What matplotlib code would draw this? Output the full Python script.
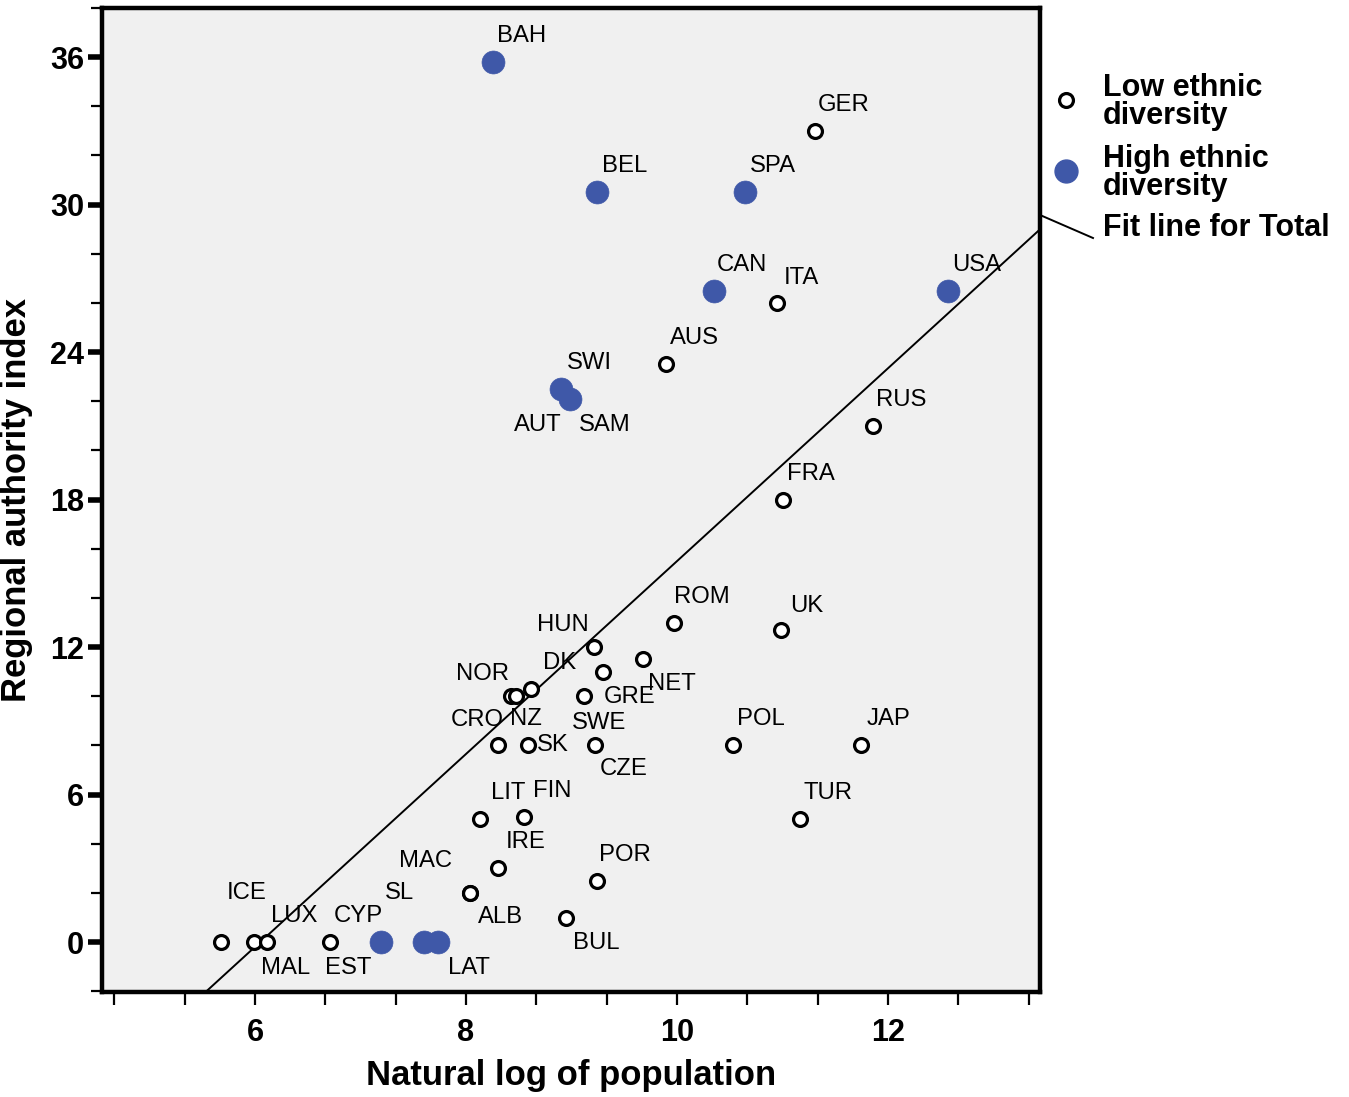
"""Regional authority index vs natural log of population, by ethnic diversity."""

import matplotlib
matplotlib.use("Agg")
import matplotlib.pyplot as plt
import numpy as np
from matplotlib.ticker import MultipleLocator
from matplotlib import font_manager

installed = {f.name for f in font_manager.fontManager.ttflist}
narrow_found = [n for n in ("Liberation Sans Narrow", "DejaVu Sans Condensed") if n in installed]
NARROW = narrow_found + ["Liberation Sans", "DejaVu Sans"]
WIDE = ["Liberation Sans", "DejaVu Sans"]
# shrink a bit when no condensed face is available
SCALE = 1.0 if narrow_found else 0.86

# low ethnic diversity countries: name, ln(pop), RAI
low_names = ["GER", "ITA", "AUS", "AUT", "RUS", "FRA", "ROM", "UK", "HUN", "NET",
             "GRE", "DK", "NOR", "CRO", "SWE", "NZ", "SK", "CZE", "POL", "JAP",
             "LIT", "FIN", "TUR", "IRE", "POR", "MAC", "ALB", "BUL", "ICE", "MAL",
             "LUX", "CYP"]
low_x = [11.31, 10.95, 9.90, 8.99, 11.86, 11.00, 9.97, 10.99, 9.21, 9.68,
         9.30, 8.62, 8.43, 8.47, 9.12, 8.30, 8.59, 9.22, 10.53, 11.74,
         8.13, 8.55, 11.17, 8.30, 9.24, 8.04, 8.04, 8.95, 5.68, 5.99,
         6.11, 6.71]
low_y = [33.0, 26.0, 23.5, 22.1, 21.0, 18.0, 13.0, 12.7, 12.0, 11.5,
         11.0, 10.3, 10.0, 10.0, 10.0, 8.0, 8.0, 8.0, 8.0, 8.0,
         5.0, 5.1, 5.0, 3.0, 2.5, 2.0, 2.0, 1.0, 0.0, 0.0,
         0.0, 0.0]

# high ethnic diversity countries
high_names = ["BAH", "BEL", "SPA", "CAN", "USA", "SWI", "SAM", "EST", "SL", "LAT"]
high_x = [8.26, 9.24, 10.64, 10.35, 12.57, 8.90, 8.99, 7.19, 7.60, 7.73]
high_y = [35.8, 30.5, 30.5, 26.5, 26.5, 22.5, 22.1, 0.0, 0.0, 0.0]

# label offsets in pixels (dx right, dy up); default is upper right
label_offsets = {
    "HUN": (-31, 22), "NET": (29, -25), "GRE": (26, -25), "SWE": (15, -27),
    "CZE": (29, -24), "NOR": (-29, 22), "CRO": (-38, -24), "SK": (25, 0),
    "MAC": (-45, 32), "ALB": (30, -24), "BUL": (30, -25), "ICE": (25, 49),
    "MAL": (32, -26), "EST": (-32, -26), "SL": (-24, 49), "LAT": (31, -26),
    "AUT": (-33, -26), "SAM": (34, -26), "ITA": (24, 25), "UK": (25, 24),
}
DEFAULT_OFFSET = (28, 26)

BLUE = "#3f58a8"

fig = plt.figure(figsize=(13.49, 10.97), dpi=100)
ax = fig.add_axes([102 / 1349, 1 - 992 / 1097, (1040 - 102) / 1349, (992 - 8) / 1097])
ax.set_facecolor("#f0f0f0")

ax.set_xlim(4.55, 13.44)
ax.set_ylim(-2.03, 38.0)

# fit line over all countries
all_x = np.array(low_x + high_x)
all_y = np.array(low_y + high_y)
slope, intercept = np.polyfit(all_x, all_y, 1)
line_x = np.array([4.55, 13.44])
ax.plot(line_x, slope * line_x + intercept, color="black", lw=1.4, zorder=2)

ax.plot(low_x, low_y, "o", ms=10, mfc="white", mec="black", mew=2.3, zorder=3)
ax.plot(high_x, high_y, "o", ms=16.5, mfc=BLUE, mec=BLUE, mew=0.5, zorder=4)

px2pt = 0.72
for names, xs, ys in ((low_names, low_x, low_y), (high_names, high_x, high_y)):
    for name, x, y in zip(names, xs, ys):
        dx, dy = label_offsets.get(name, DEFAULT_OFFSET)
        ax.annotate(name, (x, y), xytext=(dx * px2pt, dy * px2pt),
                    textcoords="offset points", ha="center", va="center",
                    fontsize=20 * SCALE, family=NARROW, zorder=5)

for side in ax.spines.values():
    side.set_linewidth(3.2)

ax.xaxis.set_major_locator(MultipleLocator(2))
ax.xaxis.set_minor_locator(MultipleLocator(2 / 3))
ax.yaxis.set_major_locator(MultipleLocator(6))
ax.yaxis.set_minor_locator(MultipleLocator(2))
ax.tick_params(axis="x", which="both", length=9, width=1.6, direction="out", pad=10)
ax.tick_params(axis="y", which="major", length=10, width=4, direction="out", pad=3)
ax.tick_params(axis="y", which="minor", length=8, width=1.6, direction="out")
for lab in ax.get_xticklabels() + ax.get_yticklabels():
    lab.set_fontsize(24 * (1.0 if narrow_found else 0.92))
    lab.set_fontweight("bold")
    lab.set_family(NARROW)

ax.set_xlabel("Natural log of population", fontsize=29 * SCALE, fontweight="bold",
              family=NARROW, labelpad=8)
ax.set_ylabel("Regional authority index", fontsize=29 * SCALE, fontweight="bold",
              family=NARROW, labelpad=12)

# legend drawn outside the axes
def fig_xy(px, py):
    return px / 1349, 1 - py / 1097

fig.lines.append(plt.Line2D(*zip(fig_xy(1066, 100)), marker="o", ms=10, mfc="white",
                            mec="black", mew=2.3, transform=fig.transFigure))
fig.lines.append(plt.Line2D(*zip(fig_xy(1066, 171)), marker="o", ms=16.5, mfc=BLUE,
                            mec=BLUE, transform=fig.transFigure))
(x0, y0), (x1, y1) = fig_xy(1040, 215), fig_xy(1093, 238)
fig.lines.append(plt.Line2D([x0, x1], [y0, y1], color="black", lw=1.4,
                            transform=fig.transFigure))
for text, py in (("Low ethnic\ndiversity", 102), ("High ethnic\ndiversity", 173),
                 ("Fit line for Total", 228)):
    tx, ty = fig_xy(1103, py)
    fig.text(tx, ty, text, fontsize=22, fontweight="bold", family=WIDE,
             ha="left", va="center", linespacing=0.95)

fig.savefig("out.png", dpi=100)
